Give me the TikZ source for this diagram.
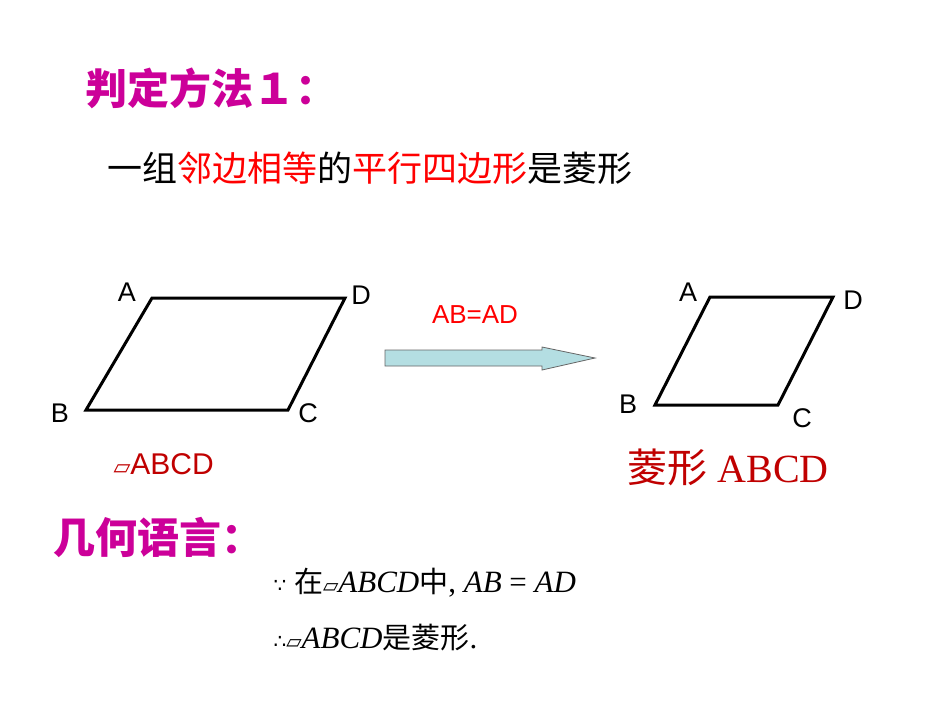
\documentclass[tikz,border=0pt]{standalone}
\usepackage{fontspec}
\setmainfont{Liberation Serif}
\newfontfamily\cjk{Noto Sans CJK SC}
\newfontfamily\arial{Liberation Sans}
\newfontfamily\djv{DejaVu Sans}
\definecolor{mag}{HTML}{CC0099}
\definecolor{rd}{HTML}{FF0000}
\definecolor{drd}{HTML}{C00000}
\definecolor{cy}{HTML}{B4DEE2}
\begin{document}
\begin{tikzpicture}[x=1pt,y=-1pt,
  lbl/.style={font=\arial\fontsize{27}{27}\selectfont},
  shp/.style={line width=3pt,line join=miter}]
\useasboundingbox (0,0) rectangle (950,713);
\fill[white] (0,0) rectangle (950,713);
\node[anchor=west,text=mag,font=\cjk\bfseries\fontsize{42}{42}\selectfont] (t) at (82,88) {判定方法１：};
\node[anchor=west,font=\cjk\fontsize{35}{35}\selectfont] (s) at (104,168) {一组\textcolor{rd}{邻边相等}的\textcolor{rd}{平行四边形}是菱形};
% left parallelogram
\coordinate (A) at (152,298); \coordinate (D) at (345,298);
\coordinate (C) at (288,410); \coordinate (B) at (86,410);
\draw[shp] (A)--(D)--(C)--(B)--cycle;
\node[lbl] (la) at (127,292) {A}; \node[lbl] (ld) at (361,295) {D};
\node[lbl] (lb) at (60,413) {B}; \node[lbl] (lc) at (308,413) {C};
% arrow
\node[text=rd,font=\arial\fontsize{26}{26}\selectfont] (ab) at (475,315) {AB=AD};
\draw[fill=cy,draw=gray!80!black,line width=0.8pt] (385,350)--(542,350)--(542,347)--(595,358)--(542,370)--(542,366)--(385,366)--cycle;
% right rhombus
\coordinate (A2) at (710,297); \coordinate (D2) at (833,297);
\coordinate (C2) at (778,405); \coordinate (B2) at (655,405);
\draw[shp] (A2)--(D2)--(C2)--(B2)--cycle;
\node[lbl] (la2) at (688,292) {A}; \node[lbl] (ld2) at (853,300) {D};
\node[lbl] (lb2) at (628,404) {B}; \node[lbl] (lc2) at (802,418) {C};
\node[anchor=west,text=drd,font=\arial\fontsize{30}{30}\selectfont] (p1) at (110,464) {{\djv\fontsize{22}{22}\selectfont ▱}ABCD};
\node[anchor=west,text=drd,font=\fontsize{40}{40}\selectfont] (p2) at (624,467) {{\cjk 菱形} ABCD};
\node[anchor=west,text=mag,font=\cjk\bfseries\fontsize{42}{42}\selectfont] (g) at (50,537) {几何语言：};
\node[anchor=west,font=\fontsize{31}{31}\selectfont] (m1) at (270,583) {{\djv\fontsize{20}{20}\selectfont ∵} {\cjk\fontsize{29}{29}\selectfont 在}{\djv\fontsize{20}{20}\selectfont ▱}\textit{ABCD}{\cjk\fontsize{29}{29}\selectfont 中}, \textit{AB} = \textit{AD}};
\node[anchor=west,font=\fontsize{31}{31}\selectfont] (m2) at (270,638) {{\djv\fontsize{20}{20}\selectfont ∴}{\djv\fontsize{20}{20}\selectfont ▱}\textit{ABCD}{\cjk\fontsize{29}{29}\selectfont 是菱形}.};
\end{tikzpicture}
\end{document}
